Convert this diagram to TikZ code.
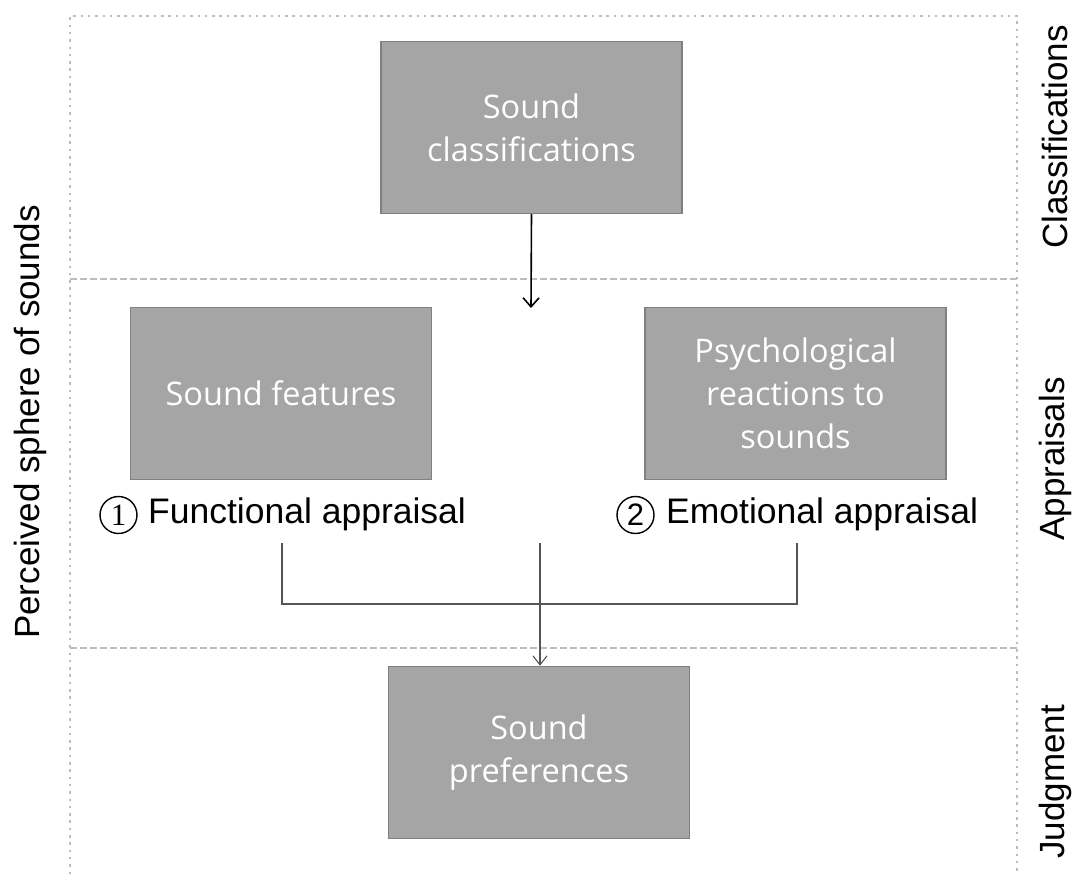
\documentclass[tikz,border=0pt]{standalone}
\usepackage{fontspec}
\setmainfont{Liberation Sans}
\newfontfamily\boxfont{Open Sans}
\newfontfamily\numfont{Liberation Serif}
\usetikzlibrary{arrows.meta}
\definecolor{boxfill}{HTML}{A5A5A5}
\definecolor{boxborder}{HTML}{808080}
\definecolor{guide}{HTML}{BDBDBD}
\definecolor{conn}{HTML}{555555}
\begin{document}
\begin{tikzpicture}[x=1pt,y=-1pt,
  box/.style={draw=boxborder,line width=1.5pt,fill=boxfill,minimum width=301pt,minimum height=172pt,inner sep=0pt,text=white,font=\boxfont\fontsize{32.5}{43}\selectfont,align=center},
  lbl/.style={font=\fontsize{35.5}{40}\selectfont,inner sep=0pt,anchor=west},
  numc/.style={circle,draw=black,line width=1.4pt,minimum size=37pt,inner sep=0pt,font=\fontsize{31}{31}\selectfont},
  side/.style={font=\fontsize{35}{40}\selectfont,rotate=90,inner sep=0pt},
  border/.style={draw=guide,line width=2.2pt,dash pattern=on 2.5pt off 4.8pt},
  divider/.style={draw=guide,line width=1.8pt,dash pattern=on 6.5pt off 3.5pt},
  arr/.style={-{Straight Barb[length=9pt,width=16pt,line width=1.6pt]},line width=1.6pt,draw=black},
  conline/.style={draw=conn,line width=1.1pt},
  carr/.style={-{Straight Barb[length=9pt,width=14pt,line width=1.1pt]},line width=1.1pt,draw=conn}
]
\useasboundingbox (0,0) rectangle (1074,874);
% guides
\draw[border] (70,874) -- (70,16) -- (1017,16) -- (1017,874);
\draw[divider] (70,279) -- (1017,279);
\draw[divider] (70,648) -- (1017,648);
% boxes
\node[box] (cls) at (531.5,127.5) {Sound\\classifications};
\node[box] (feat) at (281,393.5) {Sound features};
\node[box] (psy) at (795.5,393.5) {Psychological\\reactions to\\sounds};
\node[box] (pref) at (539,752.5) {Sound\\preferences};
% appraisal labels
\node[numc] (n1) at (118.5,515) {\numfont 1};
\node[lbl] (func) at (148,514) {Functional appraisal};
\node[numc] (n2) at (635.5,515) {2};
\node[lbl] (emo) at (666,514) {Emotional appraisal};
% side labels
\node[side] (sphere) at (30,422) {Perceived sphere of sounds};
\node[side] (cla) at (1055,137) {Classifications};
\node[side] (app) at (1055,459) {Appraisals};
\node[side] (jud) at (1055,782) {Judgment};
% connectors
\coordinate (clsend) at (531,308);
\draw[arr] (cls.south) -- (clsend);
\coordinate (fl) at (282,543);
\coordinate (fr) at (797,543);
\coordinate (fm) at (540,543);
\draw[conline] (fl) -- (282,604) -- (797,604) -- (fr);
\draw[carr] (fm) -- (pref.north -| fm);
\end{tikzpicture}
\end{document}
